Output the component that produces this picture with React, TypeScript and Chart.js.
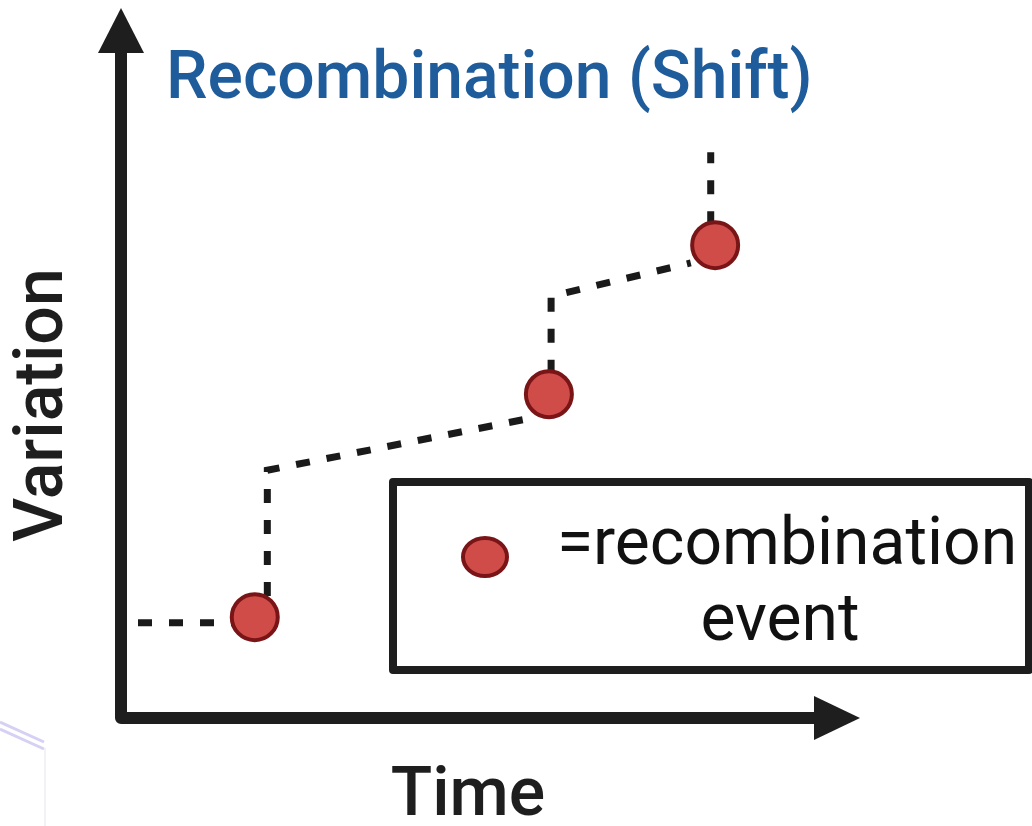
import React, { useEffect, useRef } from "react";
import { Chart, registerables } from "chart.js";

Chart.register(...registerables);

// Axis ranges (arbitrary units: time on x, variation on y)
const X_MIN = 0;
const X_MAX = 100;
const Y_MIN = 0;
const Y_MAX = 100;

// Dashed step trajectory (null = break between segments)
const pathTime: (number | null)[] = [2.3, 15.0, null, 19.8, 19.8, 56.3, null, 58.2, 58.2, 77.1, null, 79.8, 79.8];
const pathVariation: (number | null)[] = [13.4, 13.4, null, 17.2, 34.9, 42.4, null, 48.5, 59.4, 64.1, null, 69.4, 79.7];

// Recombination events
const eventTime = [18.1, 57.9, 80.4];
const eventVariation = [14.2, 45.6, 66.6];

const TITLE = "Recombination (Shift)";
const X_LABEL = "Time";
const Y_LABEL = "Variation";
const LEGEND_LINES = ["=recombination", "event"];

const INK = "#1e1e1e";
const TITLE_COLOR = "#1f5c9c";
const DOT_FILL = "#d04c48";
const DOT_EDGE = "#7a1517";

const decorPlugin = {
  id: "decor",
  beforeDatasetsDraw(chart: any) {
    const ctx = chart.ctx as CanvasRenderingContext2D;
    const a = chart.chartArea;
    const x0 = a.left;
    const y0 = a.bottom;
    ctx.save();
    // faint artefact bottom-left
    ctx.strokeStyle = "#d6d0f4";
    ctx.lineWidth = 3;
    ctx.beginPath();
    ctx.moveTo(0, 722);
    ctx.lineTo(44, 742);
    ctx.moveTo(0, 729);
    ctx.lineTo(44, 749);
    ctx.stroke();
    ctx.strokeStyle = "#f1f1f6";
    ctx.lineWidth = 2;
    ctx.beginPath();
    ctx.moveTo(45, 748);
    ctx.lineTo(45, 826);
    ctx.stroke();

    // axes
    ctx.strokeStyle = INK;
    ctx.fillStyle = INK;
    ctx.lineWidth = 12;
    ctx.lineJoin = "round";
    ctx.beginPath();
    ctx.moveTo(x0, a.top + 44);
    ctx.lineTo(x0, y0);
    ctx.lineTo(a.right - 44, y0);
    ctx.stroke();
    // y arrowhead
    ctx.beginPath();
    ctx.moveTo(x0, a.top);
    ctx.lineTo(x0 - 23, a.top + 45);
    ctx.lineTo(x0 + 23, a.top + 45);
    ctx.closePath();
    ctx.fill();
    // x arrowhead
    ctx.beginPath();
    ctx.moveTo(a.right, y0);
    ctx.lineTo(a.right - 46, y0 - 22);
    ctx.lineTo(a.right - 46, y0 + 22);
    ctx.closePath();
    ctx.fill();

    // title
    ctx.fillStyle = TITLE_COLOR;
    ctx.font = "500 66px Roboto";
    ctx.textAlign = "left";
    ctx.textBaseline = "alphabetic";
    ctx.fillText(TITLE, 166, 98);

    // axis labels
    ctx.fillStyle = INK;
    ctx.font = "500 68px Roboto";
    ctx.textAlign = "center";
    ctx.fillText(X_LABEL, 468, 815);
    ctx.save();
    ctx.translate(62, 405);
    ctx.rotate(-Math.PI / 2);
    ctx.fillText(Y_LABEL, 0, 0);
    ctx.restore();

    // legend box
    ctx.strokeStyle = INK;
    ctx.lineWidth = 8;
    ctx.lineJoin = "round";
    ctx.strokeRect(393, 482, 636, 188);
    ctx.beginPath();
    ctx.ellipse(485, 557, 22, 19, 0, 0, Math.PI * 2);
    ctx.fillStyle = DOT_FILL;
    ctx.fill();
    ctx.lineWidth = 4;
    ctx.strokeStyle = DOT_EDGE;
    ctx.stroke();
    ctx.fillStyle = "#111";
    ctx.font = "400 66px Roboto";
    ctx.textAlign = "center";
    ctx.fillText(LEGEND_LINES[0], 787, 564);
    ctx.fillText(LEGEND_LINES[1], 780, 640);
    ctx.restore();
  },
};

export default function App() {
  const ref = useRef<HTMLCanvasElement>(null);
  useEffect(() => {
    if (!ref.current) return;
    const pathData = pathTime.map((t, i) =>
      t === null ? { x: null, y: null } : { x: t, y: pathVariation[i] }
    );
    const eventData = eventTime.map((t, i) => ({ x: t, y: eventVariation[i] }));
    const chart = new Chart(ref.current, {
      type: "scatter",
      data: {
        datasets: [
          {
            label: "events",
            data: eventData,
            showLine: false,
            pointRadius: 23,
            pointHoverRadius: 23,
            pointBackgroundColor: DOT_FILL,
            pointBorderColor: DOT_EDGE,
            pointBorderWidth: 4,
            order: 0,
          },
          {
            label: "trajectory",
            data: pathData as any,
            showLine: true,
            spanGaps: false,
            borderColor: "#1a1a1a",
            borderWidth: 7,
            borderDash: [14, 17],
            pointRadius: 0,
            order: 1,
          },
        ],
      },
      options: {
        responsive: false,
        animation: false,
        clip: false as any,
        layout: { autoPadding: false, padding: { left: 121, top: 8, right: 172, bottom: 108 } },
        scales: {
          x: { type: "linear", min: X_MIN, max: X_MAX, display: false },
          y: { type: "linear", min: Y_MIN, max: Y_MAX, display: false },
        },
        plugins: {
          legend: { display: false },
          title: { display: false },
          tooltip: { enabled: false },
        },
      },
      plugins: [decorPlugin],
    });
    return () => chart.destroy();
  }, []);
  return (
    <div style={{ position: "absolute", left: 0, top: 0, width: 1032, height: 826, background: "#fff" }}>
      <canvas ref={ref} width={1032} height={826} style={{ width: 1032, height: 826 }} />
    </div>
  );
}
